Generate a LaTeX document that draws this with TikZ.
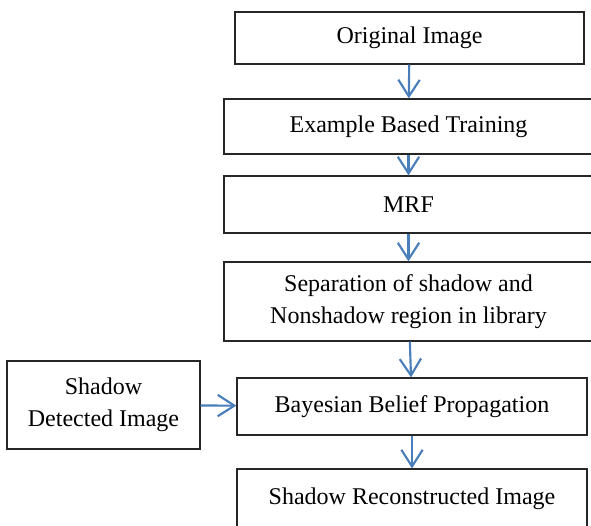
\documentclass[tikz,border=0pt]{standalone}
\usepackage{fontspec}
\setmainfont{Liberation Serif}
\usetikzlibrary{arrows.meta, positioning}
\definecolor{flowblue}{RGB}{74,126,187}
\tikzset{
    stepbox/.style={rectangle, draw=black!85, line width=0.9pt, align=center,
                    inner sep=0pt, font=\fontsize{18}{24}\selectfont},
    flow/.style={-{Straight Barb[length=12.5pt, width=16pt]}, line width=1.6pt, draw=flowblue},
}

\begin{document}
\begin{tikzpicture}[x=0.75pt, y=-0.75pt]
    \clip (0,0) rectangle (591,525);
    \node[stepbox, minimum width=261.75pt, minimum height=39pt] (orig) at (409.5,38) {Original Image};
    \node[stepbox, minimum width=276.75pt, minimum height=41.25pt] (train) at (408.5,126.5) {Example Based Training};
    \node[stepbox, minimum width=276.75pt, minimum height=42.75pt] (mrf) at (408.5,204.5) {MRF};
    \node[stepbox, minimum width=276.75pt, minimum height=59.25pt] (sep) at (408.5,301.5) {%
        Separation of shadow and\\Nonshadow region in library};
    \node[stepbox, minimum width=144.75pt, minimum height=66pt] (detect) at (103.5,405) {%
        Shadow\\Detected Image};
    \node[stepbox, minimum width=262.5pt, minimum height=42.75pt] (bbp) at (412,406.5) {Bayesian Belief Propagation};
    \node[stepbox, minimum width=262.5pt, minimum height=44.25pt] (recon) at (412,498.5) {Shadow Reconstructed Image};
    \draw[flow] (orig) -- (train);
    \draw[flow] (train) -- (mrf);
    \draw[flow] (mrf) -- (sep);
    \draw[flow] (sep) -- (bbp);
    \draw[flow] (detect) -- (bbp);
    \draw[flow] (bbp) -- (recon);
\end{tikzpicture}
\end{document}
